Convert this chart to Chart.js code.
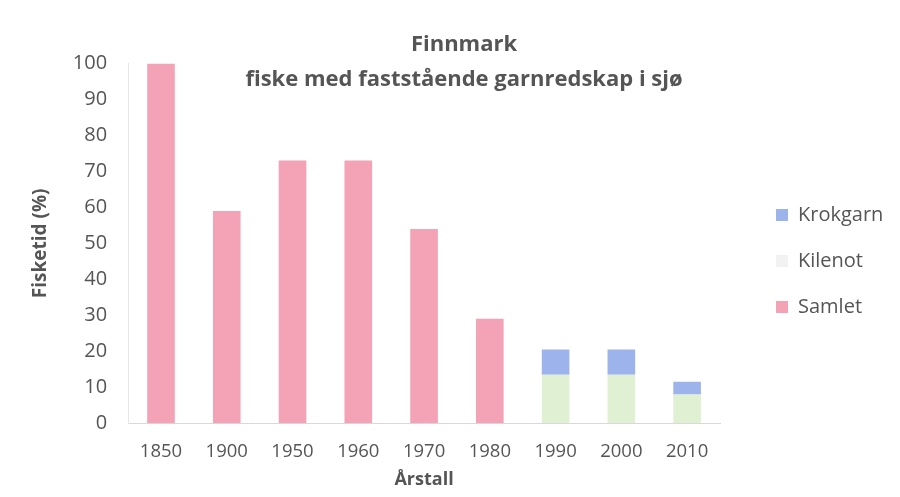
<!DOCTYPE html>
<html>
<head>
<meta charset="utf-8">
<script src="https://cdn.jsdelivr.net/npm/chart.js@4/dist/chart.umd.min.js"></script>
<style>
  html, body { margin: 0; padding: 0; background: #fff; }
  #wrap { width: 900px; height: 497px; }
</style>
</head>
<body>
<div id="wrap"><canvas id="fiskeChart"></canvas></div>
<script>
const years = ['1850', '1900', '1950', '1960', '1970', '1980', '1990', '2000', '2010'];
const samlet = [100, 59, 73, 73, 54, 29, null, null, null];
const kilenot = [null, null, null, null, null, null, 13.5, 13.5, 8];
const krokgarn = [null, null, null, null, null, null, 7, 7, 3.5];

const textColor = '#555555';
const fontFamily = '"Open Sans", "Liberation Sans", sans-serif';

// legend sits further right of the plot than Chart.js puts it
const legendGap = {
    id: 'legendGap',
    afterInit(chart) {
        const legend = chart.legend;
        const fit = legend.fit;
        legend.fit = function () {
            fit.call(this);
            this.width = 180;
        };
        const draw = legend.draw;
        legend.draw = function () {
            const c = this.ctx;
            c.save();
            c.translate(30, 14);
            draw.call(this);
            c.restore();
        };
    }
};

const ctx = document.getElementById('fiskeChart').getContext('2d');
const myChart = new Chart(ctx, {
    type: 'bar',
    data: {
        labels: years,
        datasets: [
            {
                label: 'Samlet',
                data: samlet,
                backgroundColor: '#f4a3b6'
            },
            {
                label: 'Kilenot',
                data: kilenot,
                backgroundColor: '#dff0d3'
            },
            {
                label: 'Krokgarn',
                data: krokgarn,
                backgroundColor: '#9db3ec'
            }
        ]
    },
    plugins: [legendGap],
    options: {
        responsive: true,
        maintainAspectRatio: false,
        animation: false,
        categoryPercentage: 1.0,
        barPercentage: 0.42,
        layout: {
            padding: { left: 28, right: 0, top: 0, bottom: 3 }
        },
        plugins: {
            title: {
                display: true,
                text: ['Finnmark', 'fiske med faststående garnredskap i sjø'],
                color: textColor,
                font: { family: fontFamily, size: 22, weight: 'bold', lineHeight: 1.6 },
                padding: { top: 27, bottom: -34 }
            },
            legend: {
                position: 'right',
                reverse: true,
                labels: {
                    color: textColor,
                    font: { family: fontFamily, size: 20 },
                    boxWidth: 12,
                    boxHeight: 12,
                    padding: 26,
                    generateLabels: function (chart) {
                        const items = Chart.defaults.plugins.legend.labels.generateLabels(chart);
                        items.forEach(it => {
                            it.lineWidth = 0;
                            if (it.text === 'Kilenot') it.fillStyle = '#f2f2f2';
                        });
                        return items;
                    }
                }
            },
            tooltip: { enabled: false }
        },
        scales: {
            x: {
                stacked: true,
                grid: { display: false },
                border: { color: '#d9d9d9' },
                ticks: {
                    color: textColor,
                    font: { family: fontFamily, size: 18.5 },
                    padding: 9
                },
                title: {
                    display: true,
                    text: 'Årstall',
                    color: textColor,
                    font: { family: fontFamily, size: 18, weight: 'bold' },
                    padding: { top: -2, bottom: 3 }
                }
            },
            y: {
                stacked: true,
                min: 0,
                max: 100,
                grid: { display: false },
                border: { color: '#e6e6e6' },
                ticks: {
                    stepSize: 10,
                    color: textColor,
                    font: { family: fontFamily, size: 20 },
                    padding: 13
                },
                title: {
                    display: true,
                    text: 'Fisketid (%)',
                    color: textColor,
                    font: { family: fontFamily, size: 19, weight: 'bold' },
                    padding: { top: 1, bottom: 8 }
                }
            }
        }
    }
});
</script>
</body>
</html>
